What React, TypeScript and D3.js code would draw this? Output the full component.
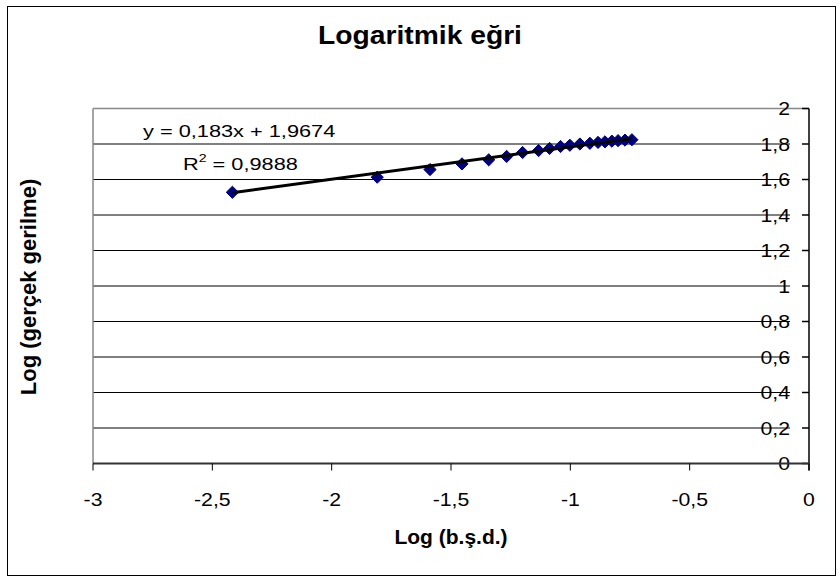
import React from 'react'
import * as d3 from 'd3'

// log of strain rate (x) and log of true stress (y)
const logStrain = [-2.416, -1.809, -1.588, -1.454, -1.342, -1.267, -1.2, -1.133, -1.087, -1.041, -1.002, -0.96, -0.918, -0.884, -0.855, -0.826, -0.8, -0.771, -0.742]
const logStress = [1.528, 1.613, 1.656, 1.688, 1.711, 1.73, 1.752, 1.763, 1.775, 1.786, 1.793, 1.8, 1.804, 1.809, 1.812, 1.816, 1.819, 1.822, 1.824]

const slope = 0.183
const intercept = 1.9674
const rSquared = '0,9888'

const xTicks = [-3, -2.5, -2, -1.5, -1, -0.5, 0]
const yTicks = [0, 0.2, 0.4, 0.6, 0.8, 1, 1.2, 1.4, 1.6, 1.8, 2]

const W = 840
const H = 581
const plot = {left: 93, right: 809, top: 108.5, bottom: 463.5}

const font = 'Arial, "Liberation Sans", sans-serif'

// excel writes decimals with a comma
const fmt = (v: number) => String(+v.toFixed(1)).replace('.', ',')

export default function App() {
	const x = d3.scaleLinear().domain([-3, 0]).range([plot.left, plot.right])
	const y = d3.scaleLinear().domain([0, 2]).range([plot.bottom, plot.top])

	const points = logStrain.map((d, i) => ({x: d, y: logStress[i]}))

	const xMin = d3.min(logStrain) as number
	const xMax = d3.max(logStrain) as number
	const trend = d3.line<number>()
		.x(d => x(d))
		.y(d => y(slope * d + intercept))([xMin, xMax])

	const diamond = d3.symbol().type(d3.symbolDiamond2).size(95)()

	return (
		<svg width={W} height={H} style={{position: 'absolute', left: 0, top: 0, background: '#fff'}} fontFamily={font}>
			<rect x={7.5} y={6.5} width={828} height={569} fill='#fff' stroke='#000' strokeWidth={1} />

			<text transform='translate(420,44) scale(1.13,1)' textAnchor='middle' fontWeight='bold' fontSize={25}>Logaritmik eğri</text>

			{/* grid lines */}
			{yTicks.filter(t => t > 0 && t < 2).map(t => (
				<line key={'g' + t} x1={plot.left} x2={790} y1={y(t)} y2={y(t)} stroke='#000' strokeWidth={1} />
			))}
			<line x1={plot.left} x2={plot.right} y1={plot.top} y2={plot.top} stroke='#888' strokeWidth={1.5} />
			<line x1={plot.left} x2={plot.left} y1={plot.top} y2={plot.bottom} stroke='#888' strokeWidth={1.5} />

			{/* y axis on the right side, at x = 0 */}
			<line x1={plot.right} x2={plot.right} y1={plot.top} y2={plot.bottom + 7} stroke='#000' strokeWidth={1.5} />
			{yTicks.map(t => (
				<g key={'y' + t}>
					<line x1={plot.right - 7} x2={plot.right} y1={y(t)} y2={y(t)} stroke='#000' strokeWidth={1.5} />
					<text transform={`translate(790,${y(t) + 6.5}) scale(1.18,1)`} textAnchor='end' fontSize={18}>{fmt(t)}</text>
				</g>
			))}

			{/* x axis */}
			<line x1={plot.left} x2={plot.right} y1={plot.bottom} y2={plot.bottom} stroke='#333' strokeWidth={2} />
			{xTicks.map(t => (
				<g key={'x' + t}>
					<line x1={x(t)} x2={x(t)} y1={plot.bottom} y2={plot.bottom + 7} stroke='#000' strokeWidth={1} />
					<text transform={`translate(${x(t)},506) scale(1.18,1)`} textAnchor='middle' fontSize={18}>{fmt(t)}</text>
				</g>
			))}

			{/* data */}
			{points.map((p, i) => (
				<path key={i} d={diamond as string} transform={`translate(${x(p.x)},${y(p.y)})`} fill='#000080' stroke='#000080' strokeWidth={1} />
			))}
			<path d={trend as string} fill='none' stroke='#000' strokeWidth={3} />

			{/* trendline label */}
			<text transform='translate(143,137) scale(1.28,1)' fontSize={17}>y = 0,183x + 1,9674</text>
			<text transform='translate(183,170) scale(1.28,1)' fontSize={17}>
				R<tspan fontSize={11} dy={-8}>2</tspan><tspan dy={8}> = {rSquared}</tspan>
			</text>

			<text x={451} y={544} textAnchor='middle' fontWeight='bold' fontSize={21}>Log (b.ş.d.)</text>
			<text transform='translate(36,287) rotate(-90)' textAnchor='middle' fontWeight='bold' fontSize={22}>Log (gerçek gerilme)</text>
		</svg>
	)
}
